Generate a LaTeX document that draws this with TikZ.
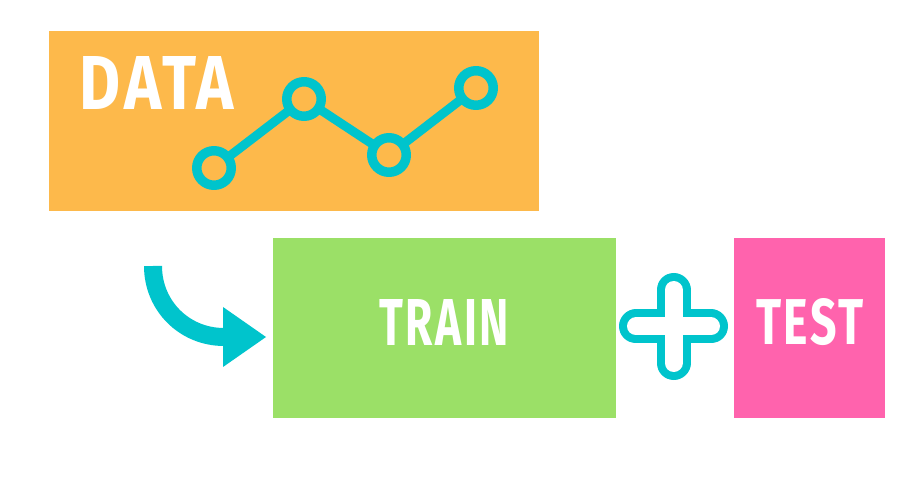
\documentclass[tikz,border=0pt]{standalone}
\usepackage{fontspec}
\newfontfamily\wordfont[LetterSpace=6]{Fira Sans}
\usepackage{graphicx}

\definecolor{dataorange}{HTML}{FDB94B}
\definecolor{linecyan}{HTML}{00C4CC}
\definecolor{traingreen}{HTML}{9BE067}
\definecolor{testpink}{HTML}{FF63AD}

\tikzset{
  box/.style={fill=#1, inner sep=0pt, minimum height=36mm},
  dot/.style={circle, draw=linecyan, fill=dataorange, line width=1.9mm, minimum size=6.9mm, inner sep=0pt},
  word/.style={text=white, inner sep=0pt, font=\wordfont\bfseries}
}
% stretch a word to the size it has in the picture
\newcommand{\fitword}[3]{\resizebox{#1}{#2}{#3}}

\begin{document}
\begin{tikzpicture}[x=0.2mm, y=-0.2mm, line join=round]
  \useasboundingbox (0,0) rectangle (900,480);

  % the three boxes
  \node[box=dataorange, minimum width=98mm] (data) at (294,121) {};
  \node[box=traingreen, minimum width=68.6mm] (train) at (444.5,328) {};
  \node[box=testpink, minimum width=30.2mm] (test) at (809.5,328) {};

  \node[word] (datatext) at (157,83.5) {\fitword{30.8mm}{10.6mm}{DATA}};
  \node[word] (traintext) at (444,322) {\fitword{26mm}{9.2mm}{TRAIN}};
  \node[word] (testtext) at (810,322) {\fitword{21.6mm}{9.2mm}{TEST}};

  % little chart in the data box
  \coordinate (p1) at (214,168);
  \coordinate (p2) at (304,99);
  \coordinate (p3) at (389,155);
  \coordinate (p4) at (476,88);
  \draw[linecyan, line width=1.8mm] (p1) -- (p2) -- (p3) -- (p4);
  \foreach \p in {p1,p2,p3,p4} {
    \node[dot] (\p dot) at (\p) {};
  }

  % curved arrow into the train box
  \coordinate (astart) at (153,266);
  \coordinate (aend) at (224,337);
  \draw[linecyan, line width=3.6mm] (astart) .. controls (153,305.7) and (184.3,337) .. (aend);
  \fill[linecyan] (223,307) -- (266,337) -- (223,367) -- cycle;

  % plus sign between train and test
  \coordinate (pl) at (636,326.5);
  \coordinate (pr) at (711,326.5);
  \coordinate (pt) at (673.5,290);
  \coordinate (pb) at (673.5,363);
  \draw[linecyan, line width=6.8mm, line cap=round] (pl) -- (pr) (pt) -- (pb);
  \draw[white, line width=3.6mm, line cap=round] (pl) -- (pr) (pt) -- (pb);
\end{tikzpicture}
\end{document}
